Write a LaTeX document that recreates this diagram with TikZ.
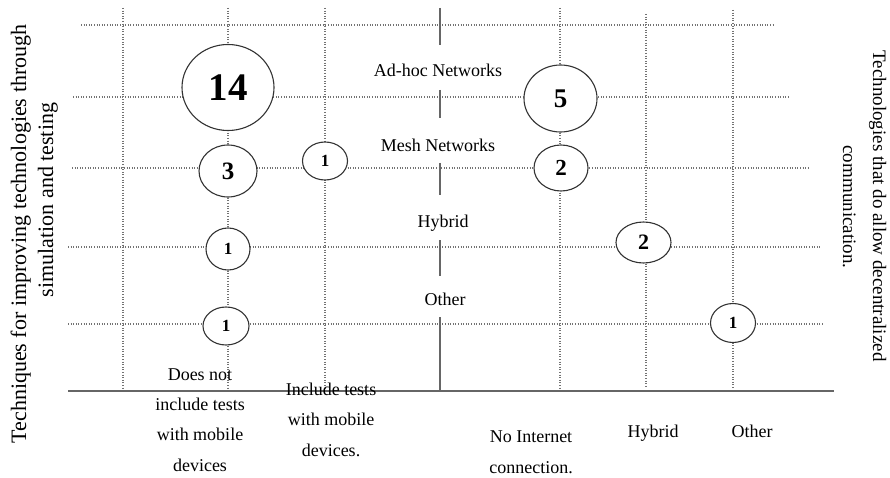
\documentclass[tikz,border=0pt]{standalone}
\usepackage{fontspec}
\setmainfont{Liberation Serif}
\usetikzlibrary{shapes.geometric}
\tikzset{
  gridline/.style={draw=black!55, line width=1.1pt, dash pattern=on 1pt off 1.6pt},
  midline/.style={draw=black!60, line width=1.6pt},
  baseaxis/.style={draw=black!60, line width=2pt},
  bubble/.style={ellipse, draw=black!80, line width=1.1pt, fill=white, inner sep=0pt, font=\bfseries},
  lbl/.style={inner sep=0pt, align=center, font=\fontsize{18}{30.3}\selectfont},
  sidel/.style={inner sep=0pt, font=\fontsize{22}{26}\selectfont},
  sider/.style={inner sep=0pt, font=\fontsize{19}{24}\selectfont},
}
\begin{document}
\begin{tikzpicture}[x=1pt,y=-1pt]
\useasboundingbox[fill=white] (0,0) rectangle (890,478);
% horizontal dotted grid lines
\draw[gridline] (81,25) -- (775,25);
\draw[gridline] (73,97) -- (790,97);
\draw[gridline] (72,168) -- (810,168);
\draw[gridline] (68,247) -- (820,247);
\draw[gridline] (68,324) -- (823,324);
% vertical dotted grid lines
\foreach \xx/\yy in {123/8,228/8,325/8,560/8,646/14,733/10}
  \draw[gridline] (\xx,\yy) -- (\xx,388);
% central solid segments
\foreach \ya/\yb in {8/45,90/118,163/195,240/276,317/390}
  \draw[midline] (440,\ya) -- (440,\yb);
% base axis
\draw[baseaxis] (68,391) -- (834,391);
% bubbles
\node[bubble, minimum width=92pt, minimum height=86pt, font=\bfseries\fontsize{39}{39}\selectfont] (c14) at (228,87.5) {14};
\node[bubble, minimum width=73pt, minimum height=67pt, font=\bfseries\fontsize{27}{27}\selectfont] (c5) at (560.5,98.5) {5};
\node[bubble, minimum width=58pt, minimum height=52pt, font=\bfseries\fontsize{25}{25}\selectfont] (c3) at (228,171) {3};
\node[bubble, minimum width=45pt, minimum height=38pt, font=\bfseries\fontsize{17}{17}\selectfont] (c1a) at (325,161) {1};
\node[bubble, minimum width=54pt, minimum height=46pt, font=\bfseries\fontsize{23}{23}\selectfont] (c2a) at (561,168) {2};
\node[bubble, minimum width=44pt, minimum height=42pt, font=\bfseries\fontsize{17}{17}\selectfont] (c1b) at (228,249) {1};
\node[bubble, minimum width=55pt, minimum height=41pt, font=\bfseries\fontsize{22}{22}\selectfont] (c2b) at (643.5,242.5) {2};
\node[bubble, minimum width=46pt, minimum height=38pt, font=\bfseries\fontsize{17}{17}\selectfont] (c1c) at (226,326) {1};
\node[bubble, minimum width=45pt, minimum height=39pt, font=\bfseries\fontsize{17}{17}\selectfont] (c1d) at (733,323) {1};
% row labels
\node[lbl, anchor=base] (radhoc) at (438,77) {Ad-hoc Networks};
\node[lbl, anchor=base] (rmesh) at (438,152) {Mesh Networks};
\node[lbl, anchor=base] (rhyb) at (443,227) {Hybrid};
\node[lbl, anchor=base] (roth) at (445,305) {Other};
% column labels (base anchor = baseline of last line)
\node[lbl, anchor=base] (cdoes) at (200,471) {Does not\\include tests\\with mobile\\devices};
\node[lbl, anchor=base] (cincl) at (331,456) {Include tests\\with mobile\\devices.};
\node[lbl, anchor=base] (cnoint) at (531,473) {No Internet\\connection.};
\node[lbl, anchor=base] (chyb) at (653,437) {Hybrid};
\node[lbl, anchor=base] (coth) at (752,437) {Other};
% side labels
\node[sidel, rotate=90, anchor=base] (left1) at (26,234) {Techniques for improving technologies through};
\node[sidel, rotate=90, anchor=base] (left2) at (53,200) {simulation and testing};
\node[sider, rotate=-90, anchor=base] (right1) at (873,206) {Technologies that do allow decentralized};
\node[sider, rotate=-90, anchor=base] (right2) at (843,207) {communication.};
\end{tikzpicture}
\end{document}
